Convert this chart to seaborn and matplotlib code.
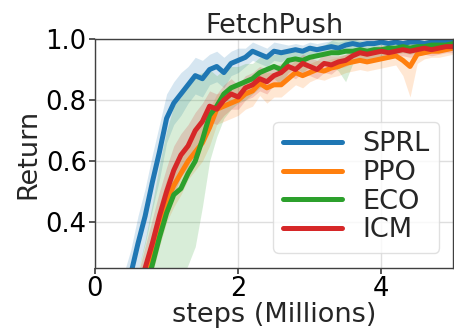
import numpy as np
import pandas as pd
import matplotlib
matplotlib.use("Agg")
import matplotlib.pyplot as plt
import seaborn as sns

# Training steps (millions)
steps = [round(0.1 * i, 1) for i in range(51)]

# Mean returns per method
sprl = [0.0, 0.02, 0.05, 0.09, 0.16, 0.23, 0.33, 0.42, 0.53, 0.63,
        0.74, 0.79, 0.82, 0.85, 0.88, 0.87, 0.90, 0.91, 0.89, 0.92,
        0.93, 0.94, 0.96, 0.95, 0.94, 0.96, 0.955, 0.96, 0.965, 0.96,
        0.97, 0.965, 0.97, 0.975, 0.97, 0.98, 0.985, 0.98, 0.985, 0.985,
        0.99, 0.985, 0.99, 0.985, 0.99, 0.99, 0.985, 0.99, 0.99, 0.995, 0.995]
ppo = [0.0, 0.01, 0.02, 0.035, 0.06, 0.09, 0.14, 0.21, 0.30, 0.39,
       0.47, 0.52, 0.56, 0.60, 0.63, 0.66, 0.71, 0.77, 0.78, 0.79,
       0.80, 0.82, 0.83, 0.855, 0.84, 0.85, 0.85, 0.87, 0.89, 0.88,
       0.89, 0.90, 0.895, 0.905, 0.91, 0.92, 0.925, 0.93, 0.925, 0.93,
       0.935, 0.94, 0.945, 0.93, 0.91, 0.95, 0.955, 0.96, 0.96, 0.965, 0.97]
eco = [0.0, 0.01, 0.02, 0.03, 0.05, 0.08, 0.12, 0.18, 0.26, 0.35,
       0.43, 0.49, 0.51, 0.56, 0.60, 0.67, 0.75, 0.78, 0.82, 0.84,
       0.85, 0.86, 0.87, 0.89, 0.90, 0.91, 0.90, 0.93, 0.935, 0.93,
       0.94, 0.945, 0.95, 0.955, 0.955, 0.96, 0.96, 0.965, 0.96, 0.965,
       0.965, 0.97, 0.97, 0.975, 0.97, 0.975, 0.975, 0.98, 0.98, 0.98, 0.985]
icm = [0.0, 0.01, 0.02, 0.04, 0.07, 0.11, 0.17, 0.25, 0.33, 0.42,
       0.50, 0.57, 0.62, 0.65, 0.70, 0.73, 0.78, 0.77, 0.80, 0.82,
       0.81, 0.84, 0.85, 0.87, 0.86, 0.88, 0.89, 0.91, 0.90, 0.92,
       0.91, 0.90, 0.92, 0.915, 0.925, 0.93, 0.945, 0.955, 0.95, 0.955,
       0.96, 0.955, 0.96, 0.965, 0.96, 0.965, 0.97, 0.965, 0.97, 0.975, 0.975]

# Spread (half-width of the shaded band) per method
sprl_sd = [0.01, 0.02, 0.03, 0.05, 0.07, 0.08, 0.09, 0.09, 0.09, 0.09,
           0.08, 0.07, 0.07, 0.06, 0.06, 0.06, 0.05, 0.05, 0.05, 0.04,
           0.04, 0.03, 0.03, 0.03, 0.03, 0.03, 0.03, 0.02, 0.02, 0.02,
           0.02, 0.02, 0.02, 0.02, 0.02, 0.015, 0.015, 0.015, 0.015, 0.015,
           0.01, 0.01, 0.01, 0.01, 0.01, 0.01, 0.01, 0.01, 0.01, 0.01, 0.01]
ppo_sd = [0.01, 0.01, 0.02, 0.03, 0.04, 0.05, 0.06, 0.07, 0.07, 0.07,
          0.07, 0.07, 0.07, 0.06, 0.06, 0.06, 0.06, 0.05, 0.05, 0.05,
          0.05, 0.05, 0.05, 0.04, 0.05, 0.04, 0.04, 0.04, 0.04, 0.04,
          0.03, 0.03, 0.03, 0.03, 0.03, 0.03, 0.03, 0.03, 0.03, 0.03,
          0.03, 0.03, 0.03, 0.05, 0.10, 0.03, 0.02, 0.02, 0.02, 0.02, 0.02]
eco_sd = [0.01, 0.01, 0.02, 0.03, 0.05, 0.08, 0.12, 0.16, 0.20, 0.24,
          0.27, 0.29, 0.30, 0.30, 0.28, 0.22, 0.15, 0.10, 0.08, 0.07,
          0.06, 0.06, 0.05, 0.05, 0.04, 0.04, 0.05, 0.04, 0.03, 0.04,
          0.03, 0.03, 0.03, 0.04, 0.06, 0.10, 0.04, 0.03, 0.03, 0.03,
          0.02, 0.02, 0.02, 0.02, 0.02, 0.02, 0.02, 0.02, 0.02, 0.02, 0.02]
icm_sd = [0.01, 0.01, 0.02, 0.03, 0.04, 0.05, 0.06, 0.07, 0.08, 0.08,
          0.08, 0.08, 0.07, 0.07, 0.06, 0.06, 0.05, 0.05, 0.05, 0.05,
          0.04, 0.04, 0.04, 0.04, 0.04, 0.03, 0.03, 0.03, 0.03, 0.03,
          0.03, 0.03, 0.03, 0.03, 0.02, 0.02, 0.02, 0.02, 0.02, 0.02,
          0.02, 0.02, 0.02, 0.02, 0.02, 0.02, 0.02, 0.02, 0.02, 0.02, 0.02]

methods = ["SPRL", "PPO", "ECO", "ICM"]
means = {"SPRL": sprl, "PPO": ppo, "ECO": eco, "ICM": icm}
spreads = {"SPRL": sprl_sd, "PPO": ppo_sd, "ECO": eco_sd, "ICM": icm_sd}
colors = {"SPRL": "#1f77b4", "PPO": "#ff7f0e", "ECO": "#2ca02c", "ICM": "#d62728"}

rows = []
for m in methods:
    for s, v, d in zip(steps, means[m], spreads[m]):
        rows.append({"steps": s, "Return": v, "sd": d, "method": m})
df = pd.DataFrame(rows)

sns.set_theme(style="whitegrid")
plt.rcParams["font.family"] = ["DejaVu Sans"]
plt.rcParams.update({
    "axes.edgecolor": "0.25",
    "axes.linewidth": 1.0,
    "grid.color": "0.87",
    "xtick.bottom": True,
    "ytick.left": True,
    "xtick.color": "0.25",
    "ytick.color": "0.25",
    "xtick.labelcolor": "black",
    "ytick.labelcolor": "black",
    "xtick.major.size": 4,
    "ytick.major.size": 4,
})

fig = plt.figure(figsize=(4.54, 3.35), dpi=100)
ax = fig.add_axes([95 / 454, 1 - 268 / 335, 358 / 454, 229 / 335])

for m in methods:
    sub = df[df["method"] == m]
    ax.fill_between(sub["steps"], sub["Return"] - sub["sd"], sub["Return"] + sub["sd"],
                    color=colors[m], alpha=0.18, linewidth=0)

sns.lineplot(data=df, x="steps", y="Return", hue="method", hue_order=methods,
             palette=colors, linewidth=3.6, ax=ax, legend=True)

ax.set_xlim(0, 5)
ax.set_ylim(0.25, 1.0)
ax.set_xticks([0, 2, 4])
ax.set_yticks([0.4, 0.6, 0.8, 1.0])
ax.tick_params(axis="both", labelsize=18.5, pad=2)
ax.set_xlabel("steps (Millions)", fontsize=19.5, labelpad=0)
ax.set_ylabel("Return", fontsize=19.5, labelpad=3)
ax.set_title("FetchPush", fontsize=19.5, pad=3)

leg = ax.legend(loc="lower right", fontsize=19.5, handlelength=2.2,
                borderpad=0.35, labelspacing=0.1, handletextpad=0.75,
                borderaxespad=0, bbox_to_anchor=(0.962, 0.066), frameon=True)
leg.get_frame().set_edgecolor("0.85")
for line in leg.get_lines():
    line.set_linewidth(3.6)

fig.savefig("out.png", dpi=100)
